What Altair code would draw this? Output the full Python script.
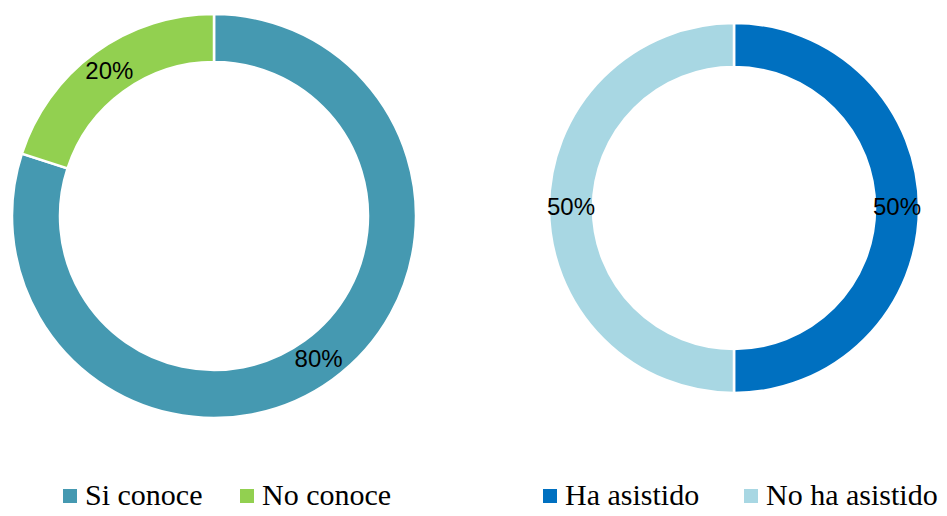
import altair as alt
import pandas as pd

# Data
conoce_cats = ["Si conoce", "No conoce"]
conoce_vals = [80, 20]
conoce_colors = ["#4599B1", "#92D050"]

asist_cats = ["Ha asistido", "No ha asistido"]
asist_vals = [50, 50]
asist_colors = ["#0070C0", "#A8D7E3"]


def donut(cats, vals, colors, cx, cy, r_out, r_in, lx, ly, colpad):
    df = pd.DataFrame({"categoria": cats, "valor": vals, "orden": list(range(len(cats)))})
    base = alt.Chart(df).encode(
        theta=alt.Theta("valor:Q", stack=True),
        order=alt.Order("orden:Q"),
        x=alt.value(cx),
        y=alt.value(cy),
    )
    arcs = base.mark_arc(radius=r_out, radius2=r_in, stroke="white", strokeWidth=2.5).encode(
        color=alt.Color(
            "categoria:N",
            scale=alt.Scale(domain=cats, range=colors),
            legend=alt.Legend(
                orient="none", legendX=lx, legendY=ly, direction="horizontal",
                title=None, labelFont="Liberation Serif", labelFontSize=30,
                labelColor="black", symbolType="square", symbolSize=196,
                symbolStrokeWidth=0, labelOffset=0, columnPadding=colpad,
                padding=0, offset=0, labelLimit=400,
            ),
        )
    )
    labels = base.transform_calculate(etiqueta="datum.valor + '%'").mark_text(
        radius=(r_out + r_in) / 2, font="Liberation Sans", fontSize=24, color="black"
    ).encode(text="etiqueta:N")
    return arcs + labels


left = donut(conoce_cats, conoce_vals, conoce_colors, 206, 208, 202, 154, 47, 473, 29)
right = donut(asist_cats, asist_vals, asist_colors, 726, 200, 185, 141, 527, 473, 36)

chart = (
    alt.layer(left, right)
    .resolve_scale(color="independent")
    .properties(
        width=931, height=500, padding=0,
        autosize=alt.AutoSizeParams(type="none"),
    )
    .configure_view(stroke=None)
)

chart.save("out.html", embed_options={"renderer": "svg", "actions": False})
